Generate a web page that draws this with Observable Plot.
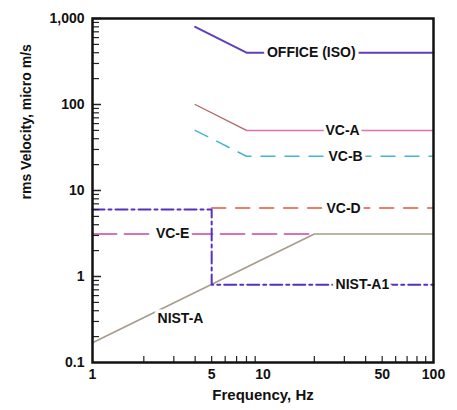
<!DOCTYPE html>
<html><head><meta charset="utf-8">
<script src="https://cdn.jsdelivr.net/npm/d3@7"></script>
<script src="https://cdn.jsdelivr.net/npm/@observablehq/plot@0.6"></script>
<style>body{margin:0;background:#fff}</style>
</head><body><div id="chart"></div>
<script>
// Series data (frequency in Hz, rms velocity in micro m/s)
const officeFreq = [4, 8, 100], officeVel = [800, 400, 400];
const vcaSlopeFreq = [4, 8], vcaSlopeVel = [100, 50];
const vcaFlatFreq = [8, 100], vcaFlatVel = [50, 50];
const vcbFreq = [4, 8, 100], vcbVel = [50, 25, 25];
const vcdFreq = [5, 100], vcdVel = [6.25, 6.25];
const vceFreq = [1, 20], vceVel = [3.12, 3.12];
const nistAFreq = [1, 20, 100], nistAVel = [0.17, 3.12, 3.12];
const nistA1Freq = [1, 5, 5, 100], nistA1Vel = [6, 6, 0.8, 0.8];

// Labels
const labelNames = ["OFFICE (ISO)", "VC-A", "VC-B", "VC-D", "VC-E", "NIST-A", "NIST-A1"];
const labelFreqs = [19.2, 29.3, 30.5, 29.7, 2.95, 3.28, 38.3];
const labelVels  = [400, 50, 25, 6.25, 3.12, 0.325, 0.8];

// Ticks
const yTickValues = [0.1, 1, 10, 100, 1000];
const yTickLabels = ["0.1", "1", "10", "100", "1,000"];
const xTickValues = [1, 5, 10, 50, 100];
const xTickLabels = ["1", "5", "10", "50", "100"];
const yMinorTicks = [0.2,0.3,0.4,0.5,0.6,0.7,0.8,0.9, 2,3,4,5,6,7,8,9, 20,30,40,50,60,70,80,90, 200,300,400,500,600,700,800,900];
const yMajorTicks = [1, 10, 100, 1000];
const xMinorTicks = [2,3,4,5,6,7,8,9, 20,30,40,50,60,70,80,90];

const W = 457, H = 410, mL = 92, mR = 24, mT = 18, mB = 48;
const innerW = W - mL - mR, innerH = H - mT - mB;

const pts = (fs, vs) => fs.map((f, i) => ({f, v: vs[i]}));
const labels = labelNames.map((n, i) => ({n, f: labelFreqs[i], v: labelVels[i]}));
const xTicks = xTickValues.map((f, i) => ({f, t: xTickLabels[i]}));
const font = "'Liberation Sans', Arial, sans-serif";

const chart = Plot.plot({
  width: W, height: H,
  marginLeft: mL, marginRight: mR, marginTop: mT, marginBottom: mB,
  style: {fontFamily: font, background: "#fff"},
  x: {type: "log", domain: [1, 100], axis: null},
  y: {type: "log", domain: [0.1, 1000]},
  marks: [
    Plot.line(pts(vcdFreq, vcdVel), {x: "f", y: "v", stroke: "#e8553a", strokeWidth: 1.5, strokeDasharray: "14 10"}),
    Plot.line(pts(vceFreq, vceVel), {x: "f", y: "v", stroke: "#c448a8", strokeWidth: 1.7, strokeDasharray: "24 8"}),
    Plot.line(pts(nistAFreq, nistAVel), {x: "f", y: "v", stroke: "#a89c8c", strokeWidth: 1.7}),
    Plot.line(pts(nistA1Freq, nistA1Vel), {x: "f", y: "v", stroke: "#5432c0", strokeWidth: 2, strokeDasharray: "12 4 3 4"}),
    Plot.line(pts(officeFreq, officeVel), {x: "f", y: "v", stroke: "#6040b8", strokeWidth: 2}),
    Plot.line(pts(vcaSlopeFreq, vcaSlopeVel), {x: "f", y: "v", stroke: "#b06a6a", strokeWidth: 1.4}),
    Plot.line(pts(vcaFlatFreq, vcaFlatVel), {x: "f", y: "v", stroke: "#e070b4", strokeWidth: 1.5}),
    Plot.line(pts(vcbFreq, vcbVel), {x: "f", y: "v", stroke: "#45b6d0", strokeWidth: 1.5, strokeDasharray: "14 10"}),
    Plot.text(labels, {x: "f", y: "v", text: "n", fontSize: 14, fontWeight: "bold", fill: "#111",
      stroke: "white", strokeWidth: 7, paintOrder: "stroke"}),
    Plot.tickY(yMinorTicks, {y: d => d, insetRight: innerW - 7, stroke: "#222", strokeWidth: 1.2}),
    Plot.tickY(yMajorTicks, {y: d => d, insetRight: innerW - 9, stroke: "#222", strokeWidth: 1.5}),
    Plot.tickX(xMinorTicks, {x: d => d, insetTop: innerH - 6, stroke: "#222", strokeWidth: 1.2}),
    Plot.axisY(yTickValues, {tickSize: 0, tickPadding: 8, fontSize: 14, fontWeight: "bold", fill: "#111",
      tickFormat: d => yTickLabels[yTickValues.indexOf(d)], label: null}),
    Plot.text(xTicks, {x: "f", text: "t", frameAnchor: "bottom", dy: 16, fontSize: 14, fontWeight: "bold", fill: "#111"}),
    Plot.text(["Frequency, Hz"], {frameAnchor: "bottom", dy: 37, fontSize: 15, fontWeight: "bold", fill: "#111"}),
    Plot.text(["rms Velocity, micro m/s"], {frameAnchor: "left", dx: -66, dy: 9, rotate: -90, fontSize: 14, fontWeight: "bold", fill: "#111"}),
    Plot.frame({stroke: "#111", strokeWidth: 2.5})
  ]
});
document.getElementById("chart").appendChild(chart);
</script>
</body></html>
